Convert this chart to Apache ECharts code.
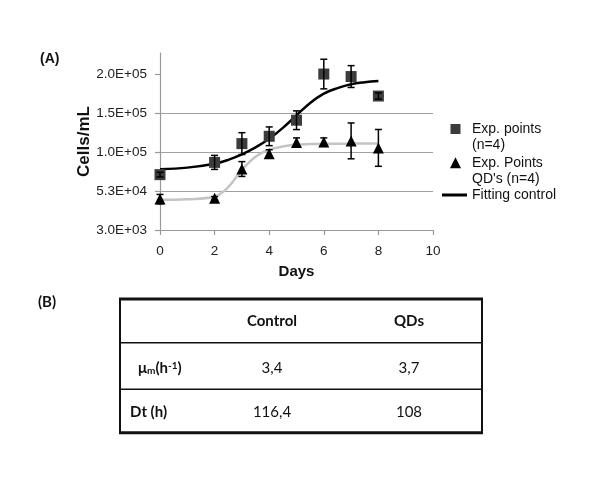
<!DOCTYPE html>
<html>
<head>
<meta charset="utf-8">
<script src="https://cdn.jsdelivr.net/npm/echarts@6/dist/echarts.min.js"></script>
<style>html,body{margin:0;padding:0;background:#fff}#c{width:600px;height:488px}</style>
</head>
<body>
<div id="c"></div>
<script>
// ---- data ----
var days = [0, 2, 3, 4, 5, 6, 7, 8];
var controlMean = [74000, 89700, 113800, 123200, 143800, 203000, 199800, 174800];
var controlErr  = [3000, 9000, 14000, 12000, 12000, 19000, 14000, 4000];
var qdMean = [42600, 43800, 81200, 100900, 115100, 115700, 117300, 108300];
var qdErr  = [6000, 2000, 9500, 5000, 6000, 5400, 23000, 23600];

var fitDays = [0, 1, 2, 2.5, 3, 3.5, 4, 4.5, 5, 5.5, 6, 6.5, 7, 7.5, 8];
var fitControl = [81000, 83000, 88000, 93000, 100000, 109000, 120000, 134000, 150000, 166000, 178000, 185000, 190000, 192500, 194000];
var fitQD = [41700, 42500, 46000, 58000, 80000, 97000, 106000, 110000, 112500, 113200, 113500, 113700, 113800, 113900, 114000];

var yTicks = [3000, 53000, 103000, 153000, 203000];
var xTicks = [0, 2, 4, 6, 8, 10];

var tableHeader = ['', 'Control', 'QDs'];
var tableRows = [
  ['{b|μ}{sub|m}{b|(h}{sup|-1}{b|)}', '3,4', '3,7'],
  ['Dt (h)', '116,4', '108']
];

var names = ['Exp. points\n(n=4)', 'Exp. Points\nQD\'s (n=4)', 'Fitting control'];

function zip(xs, ys) { return xs.map(function (x, i) { return [x, ys[i]]; }); }
function errData(m, e) { return days.map(function (d, i) { return [d, m[i] - e[i], m[i] + e[i]]; }); }
function fmtE(v) {
  return v.toExponential(1).toUpperCase().replace(/E([+-])(\d)$/, 'E$10$2');
}
function errRender(params, api) {
  var x = api.value(0);
  var lo = api.coord([x, api.value(1)]);
  var hi = api.coord([x, api.value(2)]);
  var c = 3.5;
  var st = { stroke: '#000', lineWidth: 1.5 };
  return { type: 'group', children: [
    { type: 'line', shape: { x1: lo[0], y1: lo[1], x2: hi[0], y2: hi[1] }, style: st },
    { type: 'line', shape: { x1: lo[0] - c, y1: lo[1], x2: lo[0] + c, y2: lo[1] }, style: st },
    { type: 'line', shape: { x1: hi[0] - c, y1: hi[1], x2: hi[0] + c, y2: hi[1] }, style: st }
  ]};
}

var font = 'Arial, "Liberation Sans", sans-serif';
var tfont = 'Lato, "Noto Sans", sans-serif';

// table graphics
var tL = 120, tR = 482, tRows = [299, 342.7, 389.3, 432.7];
var colX = [0, 272, 409];
var rowY = [321, 368, 412];
var rowLabelX = [0, 138, 130];
var g = [];
g.push({ type: 'text', left: 38, top: 295, style: { text: '(B)', font: 'bold 15px ' + tfont, fill: '#111' } });
g.push({ type: 'text', left: 40, top: 52, style: { text: '(A)', font: 'bold 14px ' + font, fill: '#111' } });
g.push({ type: 'line', shape: { x1: tL - 1, y1: tRows[0], x2: tR + 1, y2: tRows[0] }, style: { stroke: '#111', lineWidth: 3 } });
g.push({ type: 'line', shape: { x1: tL - 1, y1: tRows[3], x2: tR + 1, y2: tRows[3] }, style: { stroke: '#111', lineWidth: 3 } });
g.push({ type: 'line', shape: { x1: tL, y1: tRows[1], x2: tR, y2: tRows[1] }, style: { stroke: '#111', lineWidth: 1.5 } });
g.push({ type: 'line', shape: { x1: tL, y1: tRows[2], x2: tR, y2: tRows[2] }, style: { stroke: '#111', lineWidth: 1.5 } });
g.push({ type: 'line', shape: { x1: tL, y1: tRows[0], x2: tL, y2: tRows[3] }, style: { stroke: '#111', lineWidth: 2 } });
g.push({ type: 'line', shape: { x1: tR, y1: tRows[0], x2: tR, y2: tRows[3] }, style: { stroke: '#111', lineWidth: 2 } });
for (var c = 1; c < 3; c++) {
  g.push({ type: 'text', x: colX[c], y: rowY[0], style: { text: tableHeader[c], font: 'bold 15px ' + tfont, fill: '#111', align: 'center', verticalAlign: 'middle' } });
}
tableRows.forEach(function (r, i) {
  g.push({ type: 'text', x: rowLabelX[i + 1], y: rowY[i + 1], style: {
    text: r[0], font: 'bold 15px ' + tfont, fill: '#111', align: 'left', verticalAlign: 'middle',
    rich: {
      b: { font: 'bold 15px ' + tfont, fill: '#111' },
      sub: { font: 'bold 10px ' + tfont, fill: '#111', verticalAlign: 'bottom' },
      sup: { font: 'bold 10px ' + tfont, fill: '#111', verticalAlign: 'top' }
    } } });
  for (var c = 1; c < 3; c++) {
    g.push({ type: 'text', x: colX[c], y: rowY[i + 1], style: { text: r[c], font: '15px ' + tfont, fill: '#111', align: 'center', verticalAlign: 'middle' } });
  }
});

var lt = { fontFamily: font, fontSize: 14, color: '#111', lineHeight: 16.5 };
// legend icons drawn at the top of a taller box so they line up with the first text line
var sqIcon = 'path://M0,0L10,0L10,10L0,10ZM0,26.5L10,26.5Z';
var triIcon = 'path://M5.5,0L11,11L0,11ZM0,27.5L11,27.5Z';

var chart = echarts.init(document.getElementById('c'), null, { renderer: 'canvas' });
chart.setOption({
  animation: false,
  backgroundColor: '#fff',
  grid: { left: 160, top: 53, width: 273, height: 177, containLabel: false },
  xAxis: {
    type: 'value', min: 0, max: 10, interval: 2,
    name: 'Days', nameLocation: 'middle', nameGap: 34,
    nameTextStyle: { fontFamily: font, fontWeight: 'bold', fontSize: 15, color: '#111' },
    axisLine: { show: true, lineStyle: { color: '#999', width: 1.2 } },
    axisTick: { show: true, length: 5, inside: false, lineStyle: { color: '#999', width: 1.2 } },
    axisLabel: { margin: 14, fontFamily: font, fontSize: 13.5, color: '#222' },
    splitLine: { show: false }
  },
  yAxis: {
    type: 'value', min: 3000, max: 230000, interval: 50000,
    name: 'Cells/mL', nameLocation: 'middle', nameGap: 60, nameRotate: 90,
    nameTextStyle: { fontFamily: font, fontWeight: 'bold', fontSize: 17, color: '#111' },
    axisLine: { show: true, lineStyle: { color: '#999', width: 1.2 } },
    axisTick: { show: true, length: 5, customValues: yTicks, lineStyle: { color: '#999', width: 1.2 } },
    axisLabel: { margin: 13, fontFamily: font, fontSize: 13.5, color: '#222', customValues: yTicks, formatter: fmtE },
    splitLine: { show: true, showMinLine: false, showMaxLine: false, lineStyle: { color: '#a0a0a0', width: 1.2 } }
  },
  legend: [
    { data: [{ name: names[0], icon: sqIcon }], orient: 'vertical', left: 450.5, top: 120.75, padding: 0,
      itemWidth: 23, itemHeight: 26.5, itemGap: 0, textStyle: lt, selectedMode: false },
    { data: [{ name: names[1], icon: triIcon }], orient: 'vertical', left: 450, top: 154.5, padding: 0,
      itemWidth: 23, itemHeight: 27.5, itemGap: 0, textStyle: lt, selectedMode: false },
    { data: [{ name: names[2], icon: 'rect' }], orient: 'vertical', left: 442, top: 186.75, padding: 0,
      itemWidth: 25, itemHeight: 3, itemGap: 0, textStyle: lt, selectedMode: false }
  ],
  graphic: g,
  series: [
    { name: 'QD fit', type: 'line', data: zip(fitDays, fitQD), smooth: 0.4, symbol: 'none',
      lineStyle: { color: '#c4c4c4', width: 2.5 }, z: 2 },
    { name: names[2], type: 'line', data: zip(fitDays, fitControl), smooth: 0.4, symbol: 'none',
      itemStyle: { color: '#000' }, lineStyle: { color: '#000', width: 2.5 }, z: 3 },
    { name: names[0], type: 'scatter', data: zip(days, controlMean), symbol: 'rect', symbolSize: 11,
      itemStyle: { color: '#3c3c3c', opacity: 1 }, z: 4 },
    { name: names[1], type: 'scatter', data: zip(days, qdMean), symbol: 'triangle', symbolSize: 11,
      itemStyle: { color: '#000', opacity: 1 }, z: 4 },
    { name: 'ctrl err', type: 'custom', data: errData(controlMean, controlErr), renderItem: errRender, z: 5 },
    { name: 'qd err', type: 'custom', data: errData(qdMean, qdErr), renderItem: errRender, z: 5 }
  ]
});
</script>
</body>
</html>
